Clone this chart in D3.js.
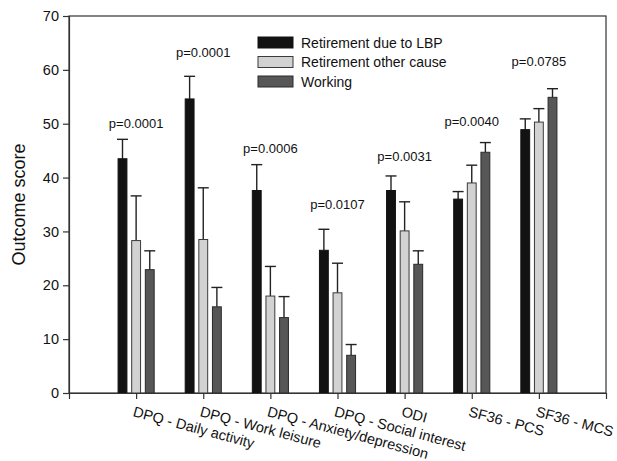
<!DOCTYPE html>
<html>
<head>
<meta charset="utf-8">
<script src="https://cdn.jsdelivr.net/npm/d3@7"></script>
<style>
  body { margin: 0; background: #fff; }
  text { font-family: "Liberation Sans", Arial, sans-serif; fill: #111; }
</style>
</head>
<body>
<svg id="chart"></svg>
<script>
const categories = [
  "DPQ - Daily activity",
  "DPQ - Work leisure",
  "DPQ - Anxiety/depression",
  "DPQ - Social interest",
  "ODI",
  "SF36 - PCS",
  "SF36 - MCS",
];
const seriesNames = ["Retirement due to LBP", "Retirement other cause", "Working"];

const lbpMean = [43.5, 54.6, 37.6, 26.5, 37.6, 36.0, 48.9];
const lbpErr = [47.1, 58.8, 42.4, 30.4, 40.3, 37.4, 50.9];
const otherMean = [28.3, 28.5, 18.0, 18.6, 30.1, 39.0, 50.3];
const otherErr = [36.6, 38.1, 23.5, 24.1, 35.5, 42.3, 52.8];
const workMean = [22.9, 16.0, 14.0, 7.0, 23.9, 44.7, 54.9];
const workErr = [26.4, 19.6, 17.9, 9.0, 26.4, 46.5, 56.5];

const pLabels = ["p=0.0001", "p=0.0001", "p=0.0006", "p=0.0107", "p=0.0031", "p=0.0040", "p=0.0785"];
const pLabelAt = [49.2, 62.4, 44.6, 34.2, 43.1, 49.6, 60.7];

const yTicks = [0, 10, 20, 30, 40, 50, 60, 70];

const width = 617, height = 461;
const margin = { top: 16, right: 11, bottom: 68, left: 69 };
const colors = ["#121212", "#d2d2d2", "#575757"];
const strokes = ["#121212", "#3a3a3a", "#2a2a2a"];

const svg = d3.select("#chart").attr("width", width).attr("height", height);

const x = d3.scaleLinear().domain([0, 8]).range([margin.left, width - margin.right]);
const y = d3.scaleLinear().domain([0, 70]).range([height - margin.bottom, margin.top]);

const barStep = 0.203;
const barW = 0.132;

const series = [
  { means: lbpMean, errs: lbpErr },
  { means: otherMean, errs: otherErr },
  { means: workMean, errs: workErr },
];

const bars = series.flatMap((s, k) =>
  s.means.map((v, i) => ({
    k,
    cx: i + 1 + (k - 1) * barStep,
    value: v,
    err: s.errs[i],
  }))
);

// frame
svg.append("rect")
  .attr("x", x(0)).attr("y", y(70))
  .attr("width", x(8) - x(0)).attr("height", y(0) - y(70))
  .attr("fill", "none").attr("stroke", "#333").attr("stroke-width", 1.2);

// error bars
const eb = svg.append("g").attr("stroke", "#222").attr("stroke-width", 1.4);
eb.selectAll("line.v").data(bars).join("line")
  .attr("x1", d => x(d.cx)).attr("x2", d => x(d.cx))
  .attr("y1", d => y(d.value)).attr("y2", d => y(d.err));
eb.selectAll("line.c").data(bars).join("line")
  .attr("x1", d => x(d.cx) - 5.5).attr("x2", d => x(d.cx) + 5.5)
  .attr("y1", d => y(d.err)).attr("y2", d => y(d.err));

// bars
svg.append("g").selectAll("rect").data(bars).join("rect")
  .attr("x", d => x(d.cx - barW / 2))
  .attr("y", d => y(d.value))
  .attr("width", x(barW) - x(0))
  .attr("height", d => y(0) - y(d.value))
  .attr("fill", d => colors[d.k])
  .attr("stroke", d => strokes[d.k])
  .attr("stroke-width", 1);

// y axis
const yAxis = svg.append("g")
  .attr("transform", `translate(${x(0)},0)`)
  .call(d3.axisLeft(y).tickValues(yTicks).tickSize(6).tickPadding(4));
yAxis.select(".domain").attr("stroke", "#333").attr("stroke-width", 1.2);
yAxis.selectAll(".tick line").attr("stroke", "#333").attr("stroke-width", 1.2);
yAxis.selectAll(".tick text").style("font-size", "14.5px").attr("fill", "#111");

// x axis
const xAxis = svg.append("g")
  .attr("transform", `translate(0,${y(0)})`)
  .call(d3.axisBottom(x).tickValues(d3.range(1, 8)).tickSize(6).tickFormat(""));
xAxis.select(".domain").attr("stroke", "#333").attr("stroke-width", 1.2);
xAxis.selectAll(".tick line").attr("stroke", "#333").attr("stroke-width", 1.2);

svg.append("g").selectAll("text").data(categories).join("text")
  .attr("transform", (d, i) => `translate(${x(i + 1) - 4},${y(0) + 23}) rotate(15)`)
  .style("font-size", "14.5px")
  .text(d => d);

// y label
svg.append("text")
  .attr("transform", `translate(25,${(y(0) + y(70)) / 2}) rotate(-90)`)
  .attr("text-anchor", "middle")
  .style("font-size", "18px")
  .text("Outcome score");

// p-values
svg.append("g").selectAll("text").data(pLabels).join("text")
  .attr("x", (d, i) => x(i + 1))
  .attr("y", (d, i) => y(pLabelAt[i]))
  .attr("text-anchor", "middle")
  .style("font-size", "13px")
  .text(d => d);

// legend
const legend = svg.append("g").attr("transform", "translate(258,37)");
const li = legend.selectAll("g").data(seriesNames).join("g")
  .attr("transform", (d, i) => `translate(0,${i * 19.5})`);
li.append("rect")
  .attr("width", 35).attr("height", 11)
  .attr("fill", (d, i) => colors[i])
  .attr("stroke", (d, i) => strokes[i]).attr("stroke-width", 1);
li.append("text")
  .attr("x", 43).attr("y", 10.5)
  .style("font-size", "14px")
  .text(d => d);
</script>
</body>
</html>
